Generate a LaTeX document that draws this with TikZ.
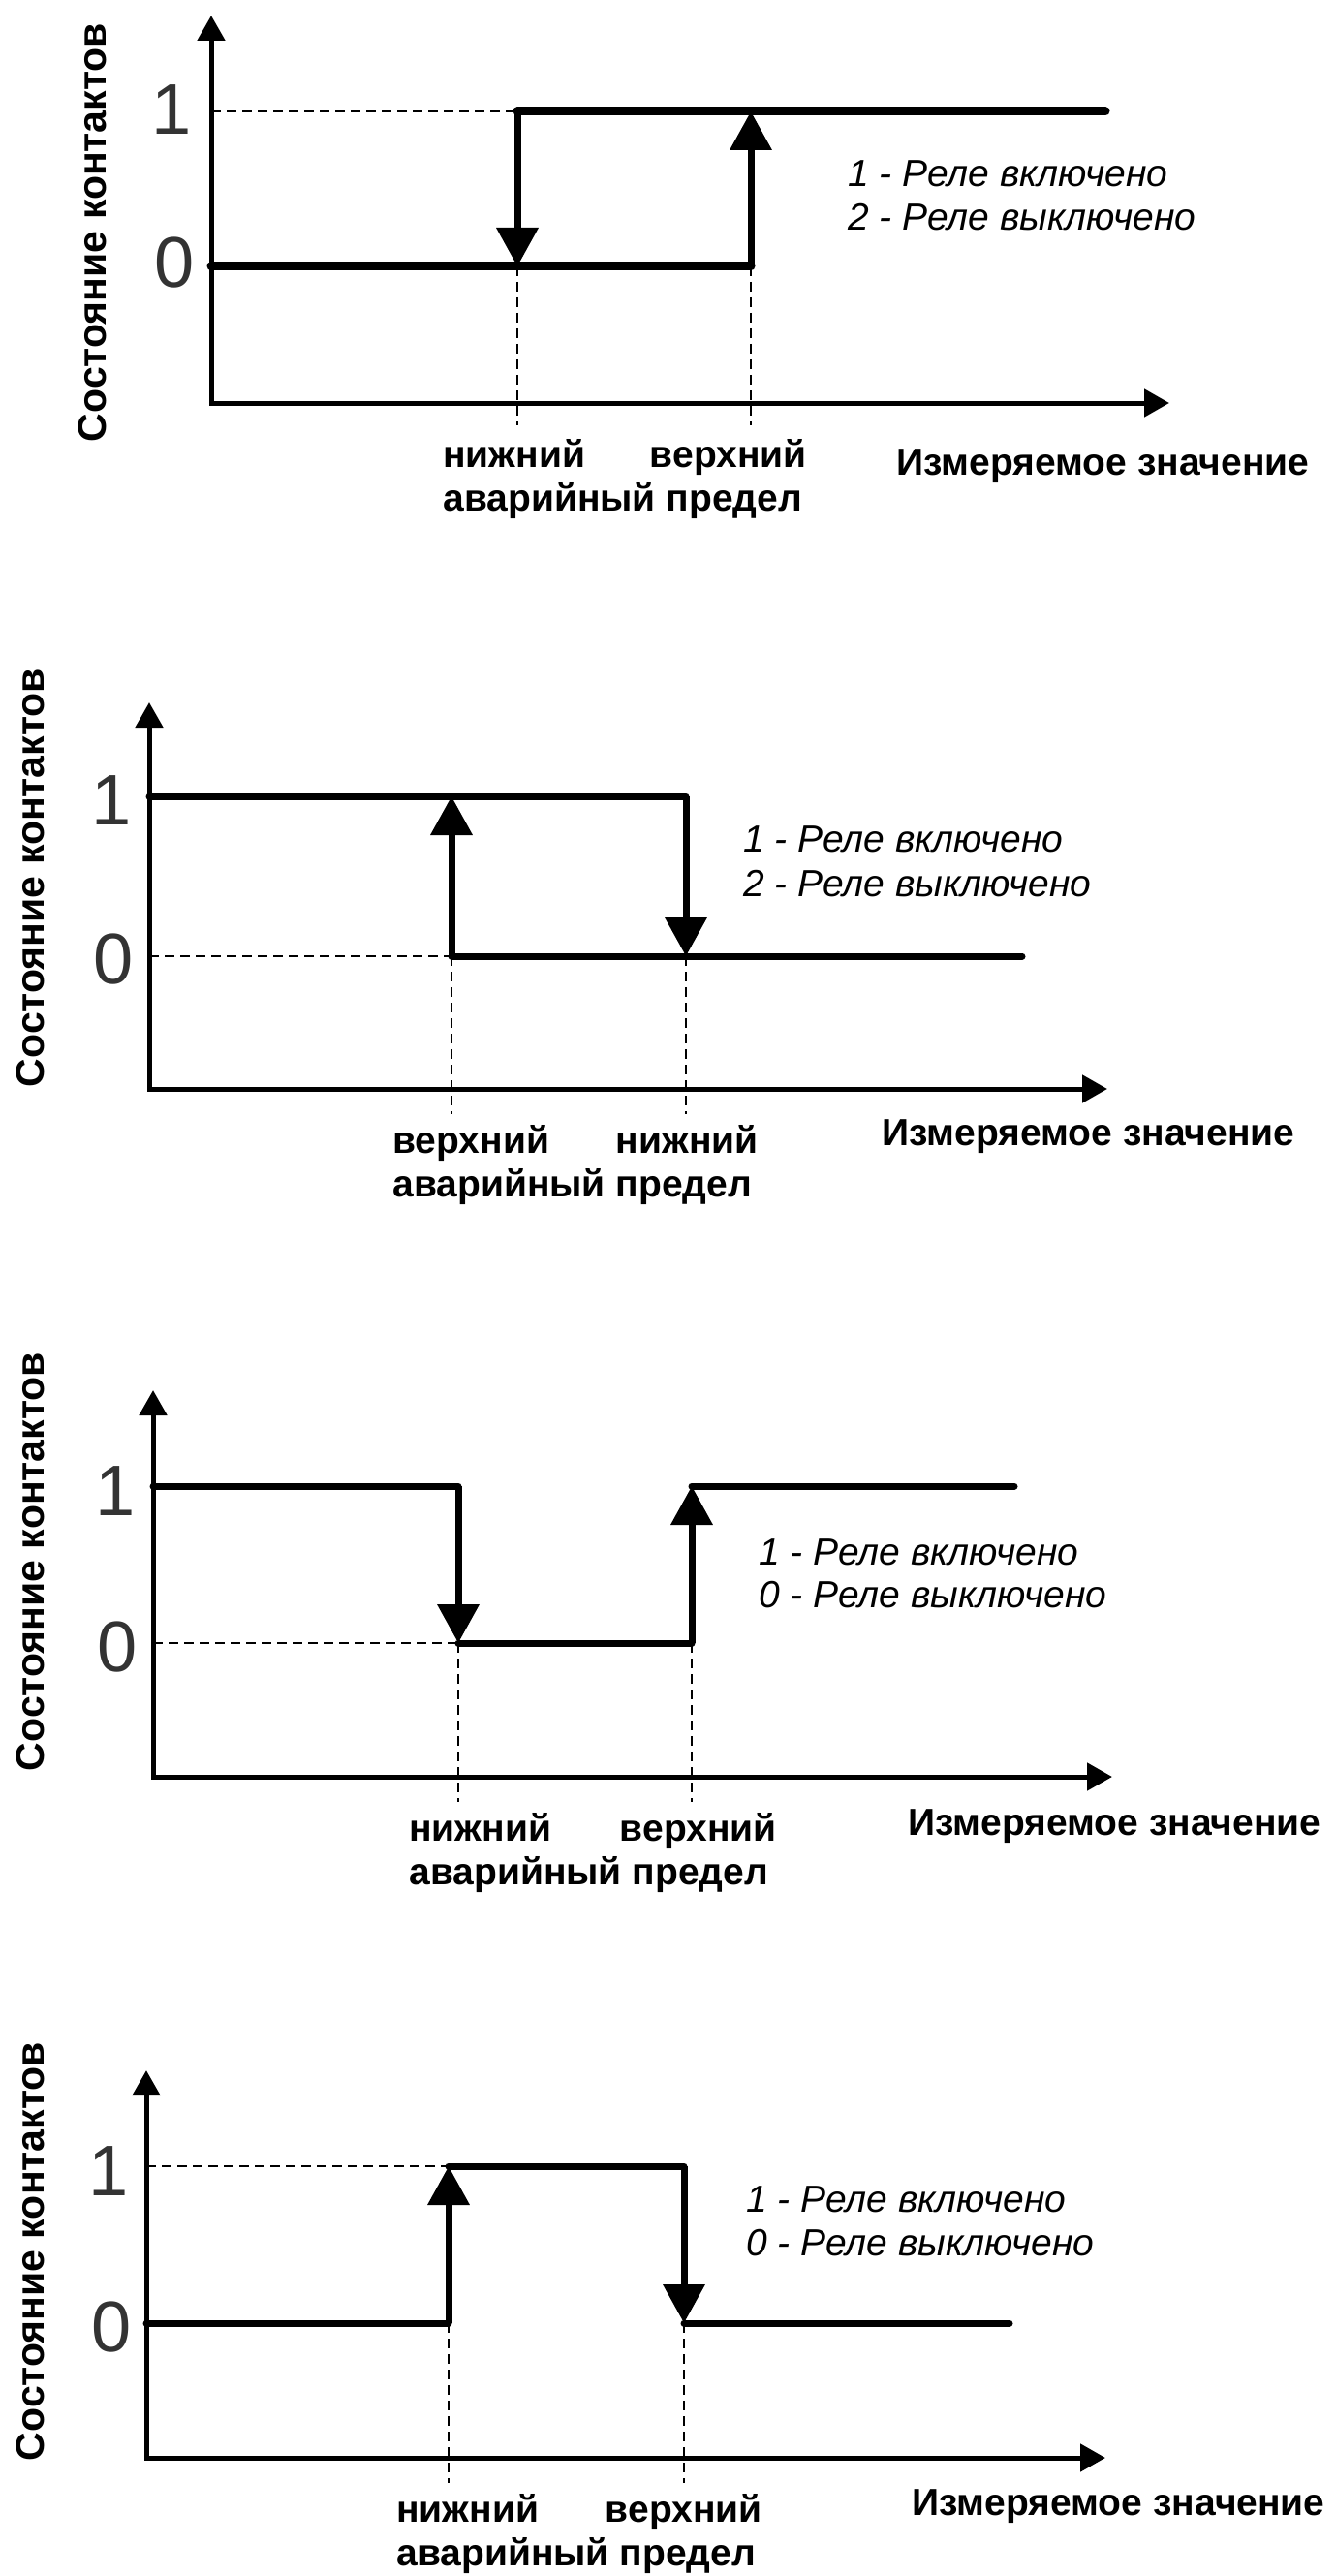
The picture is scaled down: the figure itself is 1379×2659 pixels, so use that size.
\documentclass[tikz,border=0pt]{standalone}
\usepackage{fontspec}
\setmainfont{Liberation Sans}
\usetikzlibrary{arrows.meta}
\newcommand{\lblfont}{\fontsize{19.5pt}{23pt}\selectfont\bfseries}
\newcommand{\legfont}{\fontsize{19.5pt}{22pt}\selectfont\itshape}
\newcommand{\numfont}{\fontsize{37pt}{40pt}\selectfont}
\newcommand{\ylfont}{\fontsize{20.5pt}{23pt}\selectfont\bfseries}
\begin{document}
\begin{tikzpicture}[x=0.5pt,y=-0.5pt,
  axis/.style={line width=2.5pt,{Triangle[length=13pt,width=14pt]}-{Triangle[length=13pt,width=14pt]},line join=miter},
  thickA/.style={line width=4.5pt,line cap=round},
  thickB/.style={line width=3.5pt,line cap=round},
  trans/.style={line width=3.5pt,-{Triangle[length=20pt,width=21pt]}},
  guide/.style={line width=0.9pt,dash pattern=on 5pt off 3pt},
  lbl/.style={inner sep=0pt,font=\lblfont},
  leg/.style={inner sep=0pt,font=\legfont,anchor=base west},
  num/.style={inner sep=0pt,font=\numfont,text=black!80},
  ylab/.style={inner sep=0pt,font=\ylfont,rotate=90}]
\useasboundingbox (0,0) rectangle (1379,2659);
% ================= Panel 1 =================
\coordinate (a1o) at (218,416);
\coordinate (a1y) at (218,16);
\coordinate (a1x) at (1207,416);
\coordinate (a1p) at (218,115);
\coordinate (a1q) at (218,275);
\coordinate (a1l1) at (534,115);
\coordinate (a1l0) at (534,275);
\coordinate (a1u1) at (775,115);
\coordinate (a1u0) at (775,275);
\coordinate (a1r) at (1141,115);
\coordinate (a1ld) at (534,439);
\coordinate (a1ud) at (775,439);
\draw[axis] (a1y) -- (a1o) -- (a1x);
\draw[guide] (a1p) -- (a1l1);
\draw[guide] (a1l0) -- (a1ld);
\draw[guide] (a1u0) -- (a1ud);
\draw[thickA] (a1q) -- (a1u0);
\draw[thickA] (a1l1) -- (a1r);
\draw[trans] (a1l1) -- (a1l0);
\draw[trans] (a1u0) -- (a1u1);
\node[num] (n1a) at (177,113) {1};
\node[num] (n0a) at (180,271) {0};
\node[ylab] (ya) at (95,240) {Состояние контактов};
\node[lbl,anchor=base west] (la1) at (457,482) {нижний};
\node[lbl,anchor=base east] (la2) at (833,482) {верхний};
\node[lbl,anchor=base west] (la3) at (457,527) {аварийный предел};
\node[lbl,anchor=base west] (xa) at (925,490) {Измеряемое значение};
\node[leg] (ga1) at (875,193) {1 - Реле включено};
\node[leg] (ga2) at (875,238) {2 - Реле выключено};
% ================= Panel 2 =================
\coordinate (a2o) at (154,1124);
\coordinate (a2y) at (154,725);
\coordinate (a2x) at (1143,1124);
\coordinate (a2p) at (154,822);
\coordinate (a2q) at (154,987);
\coordinate (a2h1) at (466,822);
\coordinate (a2h0) at (466,987);
\coordinate (a2l1) at (708,822);
\coordinate (a2l0) at (708,987);
\coordinate (a2r) at (1055,987);
\coordinate (a2hd) at (466,1150);
\coordinate (a2ld) at (708,1150);
\draw[axis] (a2y) -- (a2o) -- (a2x);
\draw[guide] (a2q) -- (a2h0);
\draw[guide] (a2h0) -- (a2hd);
\draw[guide] (a2l0) -- (a2ld);
\draw[thickB] (a2p) -- (a2l1);
\draw[thickB] (a2h0) -- (a2r);
\draw[trans] (a2h0) -- (a2h1);
\draw[trans] (a2l1) -- (a2l0);
\node[num] (n1b) at (115,826) {1};
\node[num] (n0b) at (117,990) {0};
\node[ylab] (yb) at (31,906) {Состояние контактов};
\node[lbl,anchor=base west] (lb1) at (405,1190) {верхний};
\node[lbl,anchor=base east] (lb2) at (783,1190) {нижний};
\node[lbl,anchor=base west] (lb3) at (405,1235) {аварийный предел};
\node[lbl,anchor=base west] (xb) at (910,1182) {Измеряемое значение};
\node[leg] (gb1) at (767,879) {1 - Реле включено};
\node[leg] (gb2) at (767,925) {2 - Реле выключено};
% ================= Panel 3 =================
\coordinate (a3o) at (158,1834);
\coordinate (a3y) at (158,1435);
\coordinate (a3x) at (1148,1834);
\coordinate (a3p) at (158,1534);
\coordinate (a3q) at (158,1696);
\coordinate (a3l1) at (473,1534);
\coordinate (a3l0) at (473,1696);
\coordinate (a3u1) at (714,1534);
\coordinate (a3u0) at (714,1696);
\coordinate (a3r) at (1047,1534);
\coordinate (a3ld) at (473,1860);
\coordinate (a3ud) at (714,1860);
\draw[axis] (a3y) -- (a3o) -- (a3x);
\draw[guide] (a3q) -- (a3l0);
\draw[guide] (a3l0) -- (a3ld);
\draw[guide] (a3u0) -- (a3ud);
\draw[thickB] (a3p) -- (a3l1);
\draw[thickB] (a3l0) -- (a3u0);
\draw[thickB] (a3u1) -- (a3r);
\draw[trans] (a3l1) -- (a3l0);
\draw[trans] (a3u0) -- (a3u1);
\node[num] (n1c) at (119,1539) {1};
\node[num] (n0c) at (121,1700) {0};
\node[ylab] (yc) at (31,1612) {Состояние контактов};
\node[lbl,anchor=base west] (lc1) at (422,1900) {нижний};
\node[lbl,anchor=base east] (lc2) at (802,1900) {верхний};
\node[lbl,anchor=base west] (lc3) at (422,1945) {аварийный предел};
\node[lbl,anchor=base west] (xc) at (937,1894) {Измеряемое значение};
\node[leg] (gc1) at (783,1615) {1 - Реле включено};
\node[leg] (gc2) at (783,1659) {0 - Реле выключено};
% ================= Panel 4 =================
\coordinate (a4o) at (151,2537);
\coordinate (a4y) at (151,2137);
\coordinate (a4x) at (1141,2537);
\coordinate (a4p) at (151,2236);
\coordinate (a4q) at (151,2398);
\coordinate (a4l1) at (463,2236);
\coordinate (a4l0) at (463,2398);
\coordinate (a4u1) at (706,2236);
\coordinate (a4u0) at (706,2398);
\coordinate (a4r) at (1042,2398);
\coordinate (a4ld) at (463,2563);
\coordinate (a4ud) at (706,2563);
\draw[axis] (a4y) -- (a4o) -- (a4x);
\draw[guide] (a4p) -- (a4l1);
\draw[guide] (a4l0) -- (a4ld);
\draw[guide] (a4u0) -- (a4ud);
\draw[thickB] (a4q) -- (a4l0);
\draw[thickB] (a4l1) -- (a4u1);
\draw[thickB] (a4u0) -- (a4r);
\draw[trans] (a4l0) -- (a4l1);
\draw[trans] (a4u1) -- (a4u0);
\node[num] (n1d) at (112,2241) {1};
\node[num] (n0d) at (115,2402) {0};
\node[ylab] (yd) at (31,2324) {Состояние контактов};
\node[lbl,anchor=base west] (ld1) at (409,2603) {нижний};
\node[lbl,anchor=base east] (ld2) at (787,2603) {верхний};
\node[lbl,anchor=base west] (ld3) at (409,2648) {аварийный предел};
\node[lbl,anchor=base west] (xd) at (941,2596) {Измеряемое значение};
\node[leg] (gd1) at (770,2283) {1 - Реле включено};
\node[leg] (gd2) at (770,2328) {0 - Реле выключено};
\end{tikzpicture}
\end{document}
